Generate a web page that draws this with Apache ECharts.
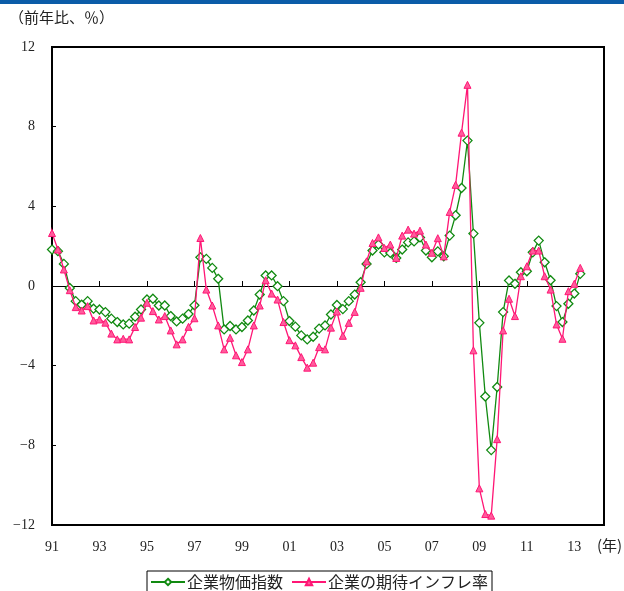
<!DOCTYPE html>
<html>
<head>
<meta charset="utf-8">
<script src="https://cdn.jsdelivr.net/npm/echarts@6/dist/echarts.min.js"></script>
<style>
  html, body { margin: 0; padding: 0; background: #fff; }
  #chart { width: 624px; height: 591px; }
</style>
</head>
<body>
<div id="chart"></div>
<script>
// Quarterly series, year-on-year %, starting 1991 Q1
const startYear = 1991;
const yearLabels = ['91', '93', '95', '97', '99', '01', '03', '05', '07', '09', '11', '13'];

// 企業物価指数 (1991Q1 - 2013Q2)
const cgpi = [
  1.83, 1.75, 1.11, -0.10, -0.76, -0.94, -0.76, -1.14,
  -1.18, -1.31, -1.64, -1.81, -1.93, -1.89, -1.54, -1.18,
  -0.68, -0.64, -0.98, -0.98, -1.51, -1.78, -1.64, -1.41,
  -0.97, 1.44, 1.36, 0.91, 0.36, -2.18, -2.01, -2.18,
  -2.06, -1.73, -1.23, -0.43, 0.53, 0.53, -0.01, -0.76,
  -1.76, -2.04, -2.48, -2.68, -2.55, -2.14, -1.98, -1.43,
  -0.95, -1.16, -0.76, -0.43, 0.19, 1.11, 1.78, 2.08,
  1.69, 1.66, 1.41, 1.83, 2.19, 2.24, 2.44, 1.78,
  1.44, 1.74, 1.49, 2.53, 3.55, 4.92, 7.30, 2.63,
  -1.85, -5.55, -8.24, -5.07, -1.31, 0.28, 0.11, 0.69,
  0.74, 1.69, 2.28, 1.19, 0.29, -1.01, -1.81, -0.89,
  -0.38, 0.61
];

// 企業の期待インフレ率 (1990Q4 - 2013Q2)
const expStart = -1;
const expected = [
  3.80,
  2.66, 1.83, 0.83, -0.21, -1.06, -1.23, -1.01, -1.73,
  -1.68, -1.84, -2.39, -2.68, -2.65, -2.68, -2.06, -1.59,
  -0.84, -1.26, -1.68, -1.51, -2.23, -2.93, -2.68, -2.05,
  -1.62, 2.41, -0.18, -0.98, -1.98, -3.18, -2.60, -3.48,
  -3.82, -3.18, -1.98, -0.98, 0.29, -0.38, -0.68, -1.81,
  -2.72, -2.98, -3.57, -4.10, -3.85, -3.07, -3.18, -2.09,
  -1.28, -2.50, -1.85, -1.30, -0.09, 1.24, 2.16, 2.44,
  1.91, 2.08, 1.41, 2.53, 2.83, 2.63, 2.78, 2.08,
  1.67, 2.40, 1.49, 3.72, 5.08, 7.70, 10.10, -3.23,
  -10.16, -11.45, -11.53, -7.69, -2.23, -0.64, -1.51, 0.49,
  0.99, 1.78, 1.78, 0.49, -0.18, -1.93, -2.65, -0.26,
  0.11, 0.91
];

const seriesNames = ['企業物価指数', '企業の期待インフレ率'];

const GREEN = '#118a11';
const PINK = '#ff1675';
const numFont = "'Liberation Serif', 'DejaVu Serif', serif";
const jpFont = "'Noto Sans CJK JP', 'Noto Sans', sans-serif";

const cgpiData = cgpi.map((v, i) => [i, v]);
const expData = expected.map((v, i) => {
  const q = i + expStart;
  return q < 0 ? { value: [q, v], symbol: 'none' } : [q, v];
});

const chart = echarts.init(document.getElementById('chart'), null, { renderer: 'canvas' });

const xCommon = { type: 'value', min: 0, max: 93, interval: 8 };

chart.setOption({
  animation: false,
  backgroundColor: '#fff',
  grid: {
    left: 52, top: 47, width: 552, height: 478,
    show: true, borderColor: '#000', borderWidth: 2, backgroundColor: 'transparent'
  },
  graphic: [
    { type: 'rect', left: 0, top: 0, shape: { width: 624, height: 4 }, style: { fill: '#0b5ca8' } },
    { type: 'text', left: 9, top: 10, style: { text: '（前年比、％）', font: '15px ' + jpFont, fill: '#222' } },
    { type: 'text', left: 597, top: 538, style: { text: '(年)', font: '15px ' + jpFont, fill: '#222' } }
  ],
  legend: {
    left: 147, top: 571,
    data: seriesNames,
    itemWidth: 34, itemHeight: 8, itemGap: 8,
    padding: [3, 4, 3, 3],
    borderColor: '#000', borderWidth: 1,
    textStyle: { fontFamily: jpFont, fontSize: 16, color: '#222', padding: [0, 0, 0, -3] }
  },
  xAxis: [
    Object.assign({}, xCommon, {
      position: 'bottom',
      axisLine: { onZero: true, lineStyle: { color: '#000', width: 1 } },
      axisTick: { inside: true, length: 5, lineStyle: { color: '#000', width: 1 } },
      axisLabel: { show: false },
      splitLine: { show: false }
    }),
    Object.assign({}, xCommon, {
      position: 'bottom',
      axisLine: { show: false, onZero: false },
      axisTick: { show: false },
      splitLine: { show: false },
      axisLabel: {
        margin: 15, showMaxLabel: false,
        fontFamily: numFont, fontSize: 14, color: '#222',
        formatter: v => (v % 8 === 0 ? (yearLabels[v / 8] || '') : '')
      }
    })
  ],
  yAxis: {
    type: 'value', min: -12, max: 12, interval: 4,
    axisLine: { show: true, onZero: false, lineStyle: { color: '#000', width: 2 } },
    axisTick: { inside: true, length: 4, lineStyle: { color: '#000' } },
    splitLine: { show: false },
    axisLabel: {
      margin: 17, fontFamily: numFont, fontSize: 14, color: '#222',
      formatter: v => String(v).replace('-', '−')
    }
  },
  series: [
    {
      name: seriesNames[0], type: 'line', xAxisIndex: 0, data: cgpiData,
      symbol: 'diamond', symbolSize: 9, showAllSymbol: true,
      lineStyle: { color: GREEN, width: 1.3 },
      itemStyle: { color: '#fff', borderColor: GREEN, borderWidth: 1.3 },
      z: 3
    },
    {
      name: seriesNames[1], type: 'line', xAxisIndex: 0, data: expData, clip: false,
      symbol: 'triangle', symbolSize: 7, showAllSymbol: true,
      lineStyle: { color: PINK, width: 1.3 },
      itemStyle: { color: '#ff5c9c', borderColor: PINK, borderWidth: 1 },
      z: 4
    }
  ]
});
</script>
</body>
</html>
